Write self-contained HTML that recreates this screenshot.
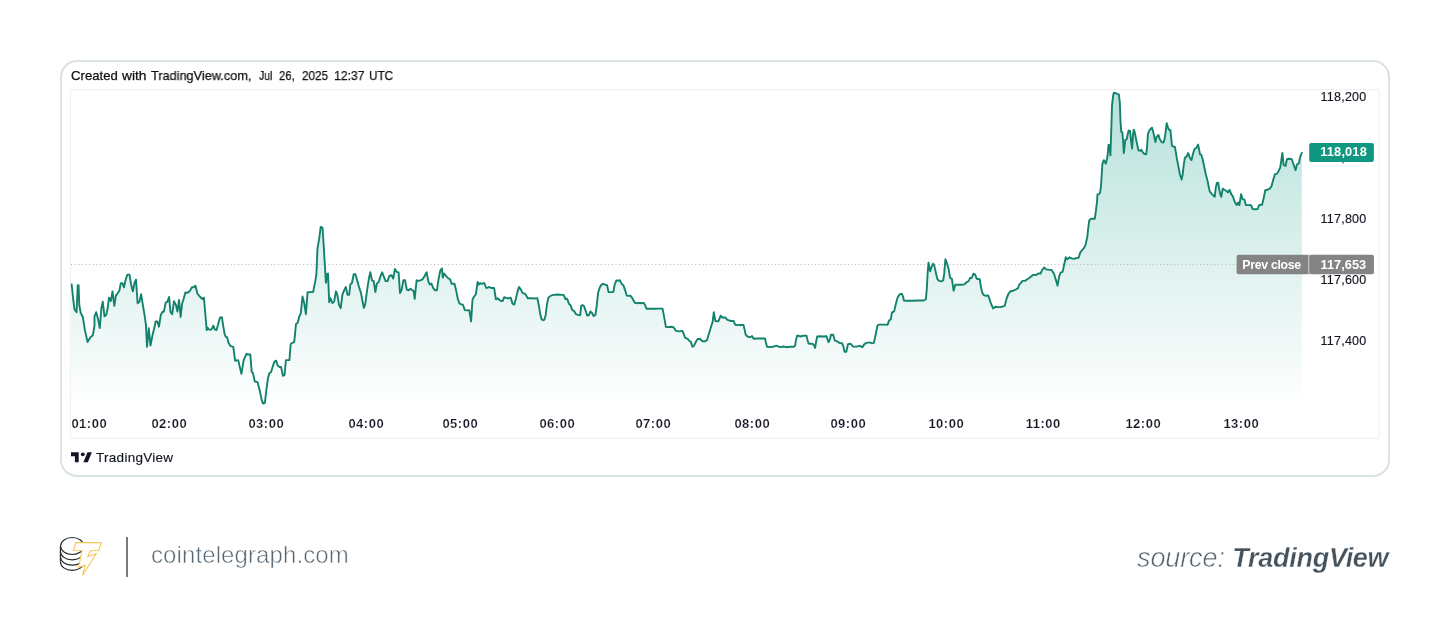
<!DOCTYPE html>
<html><head><meta charset="utf-8">
<style>
html,body{margin:0;padding:0;background:#fff;}
body{width:1450px;height:637px;position:relative;overflow:hidden;font-family:"Liberation Sans",sans-serif;}
.frame{position:absolute;left:60px;top:60px;width:1330px;height:416.5px;box-sizing:border-box;border:2px solid #d9e2e5;border-radius:17px;}
.hw{position:absolute;top:68px;font-size:13px;line-height:16px;color:#111;-webkit-text-stroke:0.25px #111;white-space:nowrap;transform-origin:0 0;will-change:transform;}
svg.chart{position:absolute;left:0;top:0;}
.tm{will-change:transform;position:absolute;top:415.5px;width:60px;text-align:center;font-size:13px;line-height:16px;font-weight:bold;color:#131722;white-space:nowrap;letter-spacing:0.5px;text-indent:0.5px;-webkit-text-stroke:0.18px #fff;}
.pr{will-change:transform;transform:translateX(-0.5px);-webkit-text-stroke:0.15px #131722;position:absolute;left:1321px;width:50px;letter-spacing:0.25px;text-align:left;font-size:12.5px;line-height:16px;color:#131722;white-space:nowrap;}
.lab{will-change:transform;letter-spacing:0px;position:absolute;box-sizing:border-box;color:#fff;font-size:12.8px;line-height:19px;font-weight:bold;white-space:nowrap;border-radius:2px;}
.tvtxt{will-change:transform;-webkit-text-stroke:0.15px #131722;position:absolute;left:96px;top:449.5px;font-size:13.5px;line-height:16px;color:#131722;white-space:nowrap;letter-spacing:0.28px;}
.ct{will-change:transform;position:absolute;left:150.5px;top:539.5px;font-size:24px;line-height:30px;color:#576671;white-space:nowrap;letter-spacing:0.1px;-webkit-text-stroke:0.55px #fff;}
.src{will-change:transform;position:absolute;right:61.3px;top:541.7px;font-size:27px;line-height:32px;color:#45535e;white-space:nowrap;font-style:italic;}
.src span{color:#54626d;letter-spacing:-0.1px;-webkit-text-stroke:0.6px #fff;}
.src b{font-weight:bold;letter-spacing:-0.28px;-webkit-text-stroke:0.3px #fff;}
.sep{position:absolute;left:126px;top:537px;width:2px;height:40px;background:#7a7a7a;}
</style></head><body>
<div class="frame"></div>
<div class="hw" style="left:70.6px;transform:scaleX(1.012)">Created</div>
<div class="hw" style="left:122.1px;transform:scaleX(1.056)">with</div>
<div class="hw" style="left:151.0px;transform:scaleX(0.978)">TradingView.com,</div>
<div class="hw" style="left:258.8px;transform:scaleX(0.802)">Jul</div>
<div class="hw" style="left:279.2px;transform:scaleX(0.868)">26,</div>
<div class="hw" style="left:302.0px;transform:scaleX(0.898)">2025</div>
<div class="hw" style="left:334.3px;transform:scaleX(0.939)">12:37</div>
<div class="hw" style="left:368.5px;transform:scaleX(0.903)">UTC</div>
<div class="pr" style="top:149.8px">118,000</div>
<svg class="chart" width="1450" height="637" viewBox="0 0 1450 637">
<defs><linearGradient id="g" x1="0" y1="90" x2="0" y2="407" gradientUnits="userSpaceOnUse">
<stop offset="0" stop-color="#089981" stop-opacity="0.295"/><stop offset="1" stop-color="#089981" stop-opacity="0"/></linearGradient></defs>
<rect x="70.7" y="89.7" width="1308.4" height="348.6" fill="none" stroke="#ededed" stroke-width="1"/>
<path d="M71.7,284.5 L73.1,298.3 L74.5,309.4 L76.6,312.2 L77.7,285.2 L78.6,285.2 L79.3,305.2 L80.7,312.8 L82.8,317.0 L84.9,330.1 L87.6,342.1 L90.4,337.3 L92.9,335.2 L94.5,325.5 L94.5,316.3 L96.2,312.2 L98.0,319.1 L99.8,328.0 L101.4,308.0 L102.8,301.8 L104.5,316.3 L106.3,314.9 L107.7,308.0 L109.0,297.7 L110.8,301.1 L112.5,291.4 L114.3,305.9 L115.9,295.6 L118.0,292.8 L119.4,290.7 L120.8,283.1 L122.4,283.1 L124.0,287.3 L125.6,279.7 L127.4,274.6 L129.5,274.6 L131.1,284.5 L132.9,291.4 L134.6,282.5 L136.0,279.7 L137.6,303.2 L139.4,301.8 L141.1,294.2 L142.9,305.2 L144.5,314.9 L145.9,324.6 L147.0,346.9 L148.8,328.3 L150.5,345.6 L152.5,335.2 L154.6,326.7 L155.6,321.5 L157.4,321.5 L159.0,326.7 L160.8,314.9 L162.2,312.2 L163.9,311.5 L165.7,302.5 L167.3,301.8 L169.1,297.0 L170.5,312.2 L172.2,314.2 L174.0,301.1 L176.0,305.2 L177.4,311.5 L179.1,300.0 L180.6,317.0 L182.2,303.2 L183.6,299.0 L185.4,292.5 L187.1,292.8 L189.6,291.4 L191.9,287.3 L193.7,287.3 L195.4,285.6 L197.4,293.5 L199.5,296.3 L201.6,298.3 L202.3,299.0 L203.9,297.7 L205.3,313.5 L206.7,330.1 L207.5,327.6 L208.9,329.4 L210.8,329.8 L211.9,328.7 L213.3,325.7 L214.7,329.4 L216.5,330.1 L218.1,324.6 L219.9,317.7 L221.9,317.3 L223.0,324.6 L224.6,333.8 L225.7,336.6 L227.1,337.3 L228.5,342.8 L230.6,346.2 L233.3,346.9 L235.1,360.7 L238.2,360.1 L241.4,373.9 L243.7,360.1 L246.5,353.8 L248.3,354.5 L250.3,354.5 L251.7,371.8 L253.0,373.2 L254.8,381.5 L257.6,382.2 L259.7,390.4 L261.7,400.1 L263.1,403.6 L264.9,402.9 L266.3,390.4 L268.0,378.0 L269.3,373.2 L271.0,372.2 L272.8,366.3 L274.6,361.4 L276.2,360.7 L277.6,365.6 L279.4,367.0 L281.1,367.0 L282.9,375.9 L284.5,375.2 L285.9,360.1 L287.3,360.1 L289.4,360.1 L290.7,344.2 L292.1,342.8 L294.2,342.1 L296.0,324.1 L297.7,322.8 L299.2,316.7 L300.8,313.3 L302.5,296.4 L304.2,303.1 L305.9,314.2 L307.6,292.1 L309.7,292.1 L313.1,292.1 L315.3,281.1 L316.4,274.3 L317.5,248.1 L319.2,238.7 L320.7,226.9 L322.5,227.7 L323.7,245.5 L324.9,265.8 L325.9,282.8 L327.1,274.3 L328.0,273.5 L329.2,302.3 L330.5,298.1 L331.4,300.6 L332.5,303.1 L334.2,301.4 L335.9,291.3 L337.3,294.7 L339.0,304.8 L340.7,308.2 L342.4,294.7 L344.1,290.4 L345.8,287.0 L347.5,294.7 L349.2,294.7 L350.3,284.5 L352.0,282.8 L353.7,274.3 L355.4,274.3 L357.1,280.3 L359.3,287.9 L361.0,293.0 L362.7,302.3 L363.9,307.9 L365.3,304.0 L366.9,291.3 L368.6,280.3 L370.3,272.3 L372.0,280.3 L373.7,281.1 L375.4,292.1 L376.8,283.6 L378.8,281.9 L380.5,276.0 L382.2,272.3 L383.9,276.9 L385.6,281.1 L387.6,281.1 L389.3,276.0 L391.5,275.2 L393.2,278.6 L394.9,268.9 L396.6,271.8 L398.6,272.3 L400.0,293.0 L401.7,289.6 L403.4,280.3 L405.1,280.3 L406.8,289.6 L408.8,290.4 L410.5,288.7 L413.6,290.9 L414.7,298.9 L416.6,280.3 L418.6,280.8 L420.3,280.3 L422.5,279.4 L424.6,276.0 L426.6,272.3 L428.3,281.1 L429.7,284.5 L431.4,283.6 L433.1,287.9 L435.1,290.4 L436.9,290.4 L438.5,279.4 L440.2,270.9 L441.9,268.4 L442.8,277.6 L444.1,273.5 L446.2,276.2 L448.3,278.3 L449.9,279.0 L451.7,283.8 L454.5,283.8 L455.9,289.4 L457.7,298.3 L459.3,303.2 L460.7,304.1 L462.8,304.6 L464.9,310.1 L466.9,310.4 L469.3,310.1 L471.1,321.5 L472.5,299.7 L473.8,297.0 L475.9,294.2 L477.6,282.0 L479.0,284.5 L480.3,283.1 L482.1,283.8 L484.2,282.9 L486.3,288.0 L487.7,287.6 L489.4,287.0 L491.1,288.0 L494.1,288.0 L495.9,299.4 L497.6,298.3 L499.4,300.0 L501.5,301.1 L502.8,300.8 L504.2,297.2 L506.3,298.1 L508.4,298.3 L510.7,297.7 L512.5,303.6 L514.3,304.6 L516.0,298.3 L517.6,291.4 L519.0,287.0 L520.8,289.4 L522.6,293.1 L524.5,293.5 L525.9,294.9 L527.7,298.3 L529.8,298.3 L532.3,298.1 L533.9,298.6 L536.0,298.3 L537.4,298.3 L538.8,305.2 L540.1,313.5 L541.5,319.1 L542.9,320.2 L544.3,319.8 L545.7,314.9 L547.0,303.9 L548.4,297.7 L550.5,295.9 L553.3,294.9 L557.4,294.5 L562.2,294.9 L563.6,294.9 L565.4,299.0 L567.1,298.6 L569.1,304.1 L570.5,305.2 L572.3,310.1 L574.0,310.8 L576.0,314.2 L578.1,314.9 L580.2,315.2 L581.2,305.9 L582.5,305.2 L583.9,305.9 L585.7,310.8 L587.1,315.6 L588.9,315.2 L590.3,311.5 L591.9,312.8 L593.6,316.0 L595.4,314.9 L596.8,305.2 L598.1,292.8 L599.9,287.3 L601.6,284.5 L603.4,283.8 L605.1,284.8 L607.1,285.2 L608.5,292.1 L611.3,292.1 L613.3,292.1 L614.7,284.5 L616.4,280.4 L618.2,280.7 L619.8,280.1 L621.6,283.8 L623.4,285.2 L625.1,290.1 L626.7,295.6 L628.5,295.9 L630.3,295.6 L632.0,297.7 L634.8,302.8 L637.5,303.2 L640.0,302.9 L641.0,303.3 L643.8,302.9 L644.9,304.7 L646.6,308.8 L648.6,308.8 L650.7,308.6 L654.9,308.8 L659.0,308.6 L662.5,308.6 L663.8,315.1 L665.9,326.8 L668.0,327.1 L671.4,326.8 L673.5,327.2 L676.0,330.9 L679.7,331.4 L682.5,330.9 L685.2,337.8 L687.7,338.8 L689.4,341.0 L690.8,341.6 L692.4,346.8 L694.2,345.4 L696.3,341.0 L697.7,339.0 L699.8,338.8 L702.5,341.3 L705.3,341.3 L707.1,339.9 L708.7,334.4 L710.8,327.5 L712.6,322.0 L713.8,312.3 L715.4,321.0 L718.4,321.3 L719.8,317.8 L720.7,315.7 L722.3,317.5 L725.3,317.5 L727.4,319.9 L730.8,321.0 L733.6,321.0 L735.2,324.7 L737.7,325.1 L740.5,325.0 L743.5,325.0 L744.6,329.6 L745.7,334.7 L747.4,336.5 L750.2,337.2 L752.0,336.0 L753.6,338.8 L757.1,338.5 L761.2,338.5 L765.1,338.5 L766.0,342.7 L767.0,346.8 L769.5,347.1 L773.0,346.8 L776.4,345.7 L779.2,346.8 L781.2,347.1 L783.3,346.5 L786.1,347.2 L790.2,346.8 L793.7,346.8 L795.1,345.7 L796.0,339.9 L797.1,335.8 L798.8,335.8 L800.6,336.5 L802.7,335.8 L806.5,335.8 L807.5,339.9 L808.5,343.6 L810.2,343.8 L812.3,343.6 L813.7,344.8 L815.1,347.9 L816.2,341.3 L817.2,336.5 L819.9,336.2 L823.4,336.5 L826.4,336.2 L827.5,339.2 L828.5,342.3 L830.0,339.2 L831.0,334.7 L833.2,334.7 L834.9,340.7 L836.9,341.2 L839.5,342.9 L842.0,343.2 L843.4,346.6 L844.6,351.7 L846.3,351.7 L848.0,344.1 L850.5,343.7 L853.1,346.6 L856.4,346.6 L859.8,345.8 L862.4,347.1 L864.4,344.1 L866.6,342.9 L869.2,342.4 L871.7,343.2 L873.9,342.9 L875.6,334.7 L877.3,326.3 L878.5,324.6 L881.9,324.6 L885.3,324.6 L887.5,324.9 L889.2,320.3 L890.7,319.5 L892.0,312.4 L894.1,311.4 L895.8,304.2 L897.6,297.5 L899.7,294.4 L901.7,293.7 L903.1,296.6 L903.9,300.5 L906.4,300.8 L911.5,300.8 L918.3,300.5 L923.7,300.5 L925.9,299.2 L926.8,289.0 L927.6,273.7 L928.5,262.7 L930.2,271.2 L931.5,266.9 L933.2,263.6 L934.4,266.1 L936.1,273.7 L937.3,278.8 L939.0,280.8 L941.2,281.4 L943.2,280.5 L944.2,273.7 L945.4,259.3 L946.8,262.7 L948.5,268.6 L950.2,278.0 L951.9,278.8 L953.6,290.7 L955.3,284.7 L958.1,284.7 L961.5,284.7 L964.4,284.4 L966.6,282.2 L968.8,281.0 L970.0,278.0 L971.7,278.0 L973.4,273.7 L975.1,274.6 L976.8,278.8 L979.7,279.2 L981.0,287.3 L982.4,293.2 L984.1,295.4 L986.1,295.8 L988.1,295.4 L989.5,299.2 L991.2,304.2 L993.2,308.5 L995.4,306.8 L998.0,307.1 L1000.5,307.1 L1003.1,306.3 L1004.7,305.9 L1006.4,299.2 L1008.5,293.7 L1010.7,291.2 L1013.2,290.7 L1015.8,289.5 L1018.0,288.1 L1019.2,284.7 L1020.0,283.9 L1022.6,280.9 L1024.9,280.9 L1027.3,279.3 L1029.6,277.7 L1032.0,275.7 L1033.6,274.6 L1035.9,275.1 L1038.3,273.5 L1040.6,273.5 L1042.2,269.9 L1044.2,267.5 L1046.1,269.4 L1049.3,269.9 L1051.6,269.9 L1054.0,273.8 L1055.9,280.1 L1057.6,285.6 L1059.0,277.0 L1060.6,272.6 L1062.6,271.9 L1064.2,264.4 L1065.8,257.3 L1067.3,259.4 L1069.4,257.3 L1071.6,258.4 L1074.1,258.9 L1076.0,258.1 L1078.6,257.8 L1080.2,252.6 L1081.9,250.3 L1083.8,248.4 L1085.7,244.3 L1087.3,236.9 L1088.2,228.3 L1089.3,220.4 L1090.9,218.8 L1093.2,218.8 L1094.8,218.8 L1096.1,209.4 L1097.2,200.0 L1097.4,194.6 L1098.8,194.1 L1100.1,192.7 L1101.0,186.3 L1101.8,173.1 L1102.4,163.7 L1103.8,160.2 L1104.9,161.5 L1105.7,163.7 L1107.1,158.8 L1107.8,153.2 L1108.5,145.0 L1109.5,145.0 L1110.4,155.4 L1111.2,132.1 L1112.0,105.7 L1113.1,95.7 L1113.9,92.6 L1116.4,93.5 L1118.9,94.6 L1119.8,102.3 L1120.5,121.1 L1121.2,131.6 L1122.3,132.1 L1123.1,141.0 L1123.8,153.1 L1125.3,139.9 L1126.7,139.3 L1127.5,135.4 L1128.6,130.5 L1130.0,131.0 L1131.1,141.0 L1132.1,148.7 L1133.0,134.3 L1133.8,129.7 L1134.7,132.1 L1135.8,137.7 L1137.1,144.3 L1138.5,150.3 L1140.2,150.9 L1141.5,149.8 L1142.6,152.0 L1144.0,153.7 L1146.2,154.2 L1147.0,147.6 L1147.9,134.3 L1149.0,131.0 L1150.7,128.8 L1152.0,127.7 L1152.9,130.5 L1154.0,135.4 L1155.4,142.1 L1156.5,137.1 L1158.4,134.9 L1159.8,139.3 L1161.7,142.1 L1163.3,142.6 L1164.4,139.9 L1165.6,132.1 L1166.7,123.1 L1168.0,127.7 L1169.1,129.7 L1170.3,129.9 L1171.1,136.6 L1172.0,145.9 L1173.3,146.5 L1174.9,147.0 L1175.7,151.4 L1176.8,158.2 L1178.2,165.4 L1179.9,174.2 L1181.6,179.5 L1182.7,174.2 L1183.8,164.3 L1184.9,157.7 L1186.5,156.6 L1188.2,153.0 L1189.8,157.7 L1191.5,160.1 L1192.9,154.3 L1194.5,149.0 L1196.4,147.9 L1198.1,144.6 L1199.2,149.9 L1200.0,154.3 L1201.4,154.9 L1202.5,158.8 L1204.2,166.5 L1205.8,174.2 L1207.5,180.8 L1209.1,188.6 L1209.7,191.3 L1211.9,194.1 L1214.7,196.8 L1215.8,187.4 L1216.9,183.0 L1218.2,182.7 L1219.1,188.6 L1220.2,194.1 L1221.3,196.8 L1222.7,188.6 L1224.3,189.7 L1226.2,190.8 L1227.9,192.4 L1229.6,189.9 L1231.2,194.1 L1232.9,196.3 L1234.5,201.2 L1235.0,202.4 L1236.7,205.1 L1238.1,202.4 L1239.4,205.1 L1241.1,194.1 L1242.5,199.1 L1244.4,199.6 L1245.8,205.1 L1248.2,205.1 L1251.0,205.1 L1252.7,209.0 L1254.9,209.3 L1257.6,209.0 L1259.3,204.9 L1262.0,204.9 L1263.7,198.0 L1265.3,190.2 L1267.6,189.7 L1269.8,188.6 L1271.4,186.4 L1273.1,180.3 L1274.9,174.2 L1276.9,173.9 L1278.6,170.9 L1280.2,167.6 L1281.3,160.4 L1282.4,152.9 L1283.6,164.9 L1285.5,166.0 L1286.9,159.3 L1289.1,158.8 L1291.8,159.3 L1293.5,164.3 L1295.5,170.2 L1297.0,164.3 L1298.8,163.5 L1300.1,157.1 L1301.8,152.9 L1301.8,407 L71.7,407 Z" fill="url(#g)" stroke="none"/>
<line x1="71" y1="264.5" x2="1237" y2="264.5" stroke="#b5b5b5" stroke-width="1" stroke-dasharray="1 2.63"/>
<path d="M71.7,284.5 L73.1,298.3 L74.5,309.4 L76.6,312.2 L77.7,285.2 L78.6,285.2 L79.3,305.2 L80.7,312.8 L82.8,317.0 L84.9,330.1 L87.6,342.1 L90.4,337.3 L92.9,335.2 L94.5,325.5 L94.5,316.3 L96.2,312.2 L98.0,319.1 L99.8,328.0 L101.4,308.0 L102.8,301.8 L104.5,316.3 L106.3,314.9 L107.7,308.0 L109.0,297.7 L110.8,301.1 L112.5,291.4 L114.3,305.9 L115.9,295.6 L118.0,292.8 L119.4,290.7 L120.8,283.1 L122.4,283.1 L124.0,287.3 L125.6,279.7 L127.4,274.6 L129.5,274.6 L131.1,284.5 L132.9,291.4 L134.6,282.5 L136.0,279.7 L137.6,303.2 L139.4,301.8 L141.1,294.2 L142.9,305.2 L144.5,314.9 L145.9,324.6 L147.0,346.9 L148.8,328.3 L150.5,345.6 L152.5,335.2 L154.6,326.7 L155.6,321.5 L157.4,321.5 L159.0,326.7 L160.8,314.9 L162.2,312.2 L163.9,311.5 L165.7,302.5 L167.3,301.8 L169.1,297.0 L170.5,312.2 L172.2,314.2 L174.0,301.1 L176.0,305.2 L177.4,311.5 L179.1,300.0 L180.6,317.0 L182.2,303.2 L183.6,299.0 L185.4,292.5 L187.1,292.8 L189.6,291.4 L191.9,287.3 L193.7,287.3 L195.4,285.6 L197.4,293.5 L199.5,296.3 L201.6,298.3 L202.3,299.0 L203.9,297.7 L205.3,313.5 L206.7,330.1 L207.5,327.6 L208.9,329.4 L210.8,329.8 L211.9,328.7 L213.3,325.7 L214.7,329.4 L216.5,330.1 L218.1,324.6 L219.9,317.7 L221.9,317.3 L223.0,324.6 L224.6,333.8 L225.7,336.6 L227.1,337.3 L228.5,342.8 L230.6,346.2 L233.3,346.9 L235.1,360.7 L238.2,360.1 L241.4,373.9 L243.7,360.1 L246.5,353.8 L248.3,354.5 L250.3,354.5 L251.7,371.8 L253.0,373.2 L254.8,381.5 L257.6,382.2 L259.7,390.4 L261.7,400.1 L263.1,403.6 L264.9,402.9 L266.3,390.4 L268.0,378.0 L269.3,373.2 L271.0,372.2 L272.8,366.3 L274.6,361.4 L276.2,360.7 L277.6,365.6 L279.4,367.0 L281.1,367.0 L282.9,375.9 L284.5,375.2 L285.9,360.1 L287.3,360.1 L289.4,360.1 L290.7,344.2 L292.1,342.8 L294.2,342.1 L296.0,324.1 L297.7,322.8 L299.2,316.7 L300.8,313.3 L302.5,296.4 L304.2,303.1 L305.9,314.2 L307.6,292.1 L309.7,292.1 L313.1,292.1 L315.3,281.1 L316.4,274.3 L317.5,248.1 L319.2,238.7 L320.7,226.9 L322.5,227.7 L323.7,245.5 L324.9,265.8 L325.9,282.8 L327.1,274.3 L328.0,273.5 L329.2,302.3 L330.5,298.1 L331.4,300.6 L332.5,303.1 L334.2,301.4 L335.9,291.3 L337.3,294.7 L339.0,304.8 L340.7,308.2 L342.4,294.7 L344.1,290.4 L345.8,287.0 L347.5,294.7 L349.2,294.7 L350.3,284.5 L352.0,282.8 L353.7,274.3 L355.4,274.3 L357.1,280.3 L359.3,287.9 L361.0,293.0 L362.7,302.3 L363.9,307.9 L365.3,304.0 L366.9,291.3 L368.6,280.3 L370.3,272.3 L372.0,280.3 L373.7,281.1 L375.4,292.1 L376.8,283.6 L378.8,281.9 L380.5,276.0 L382.2,272.3 L383.9,276.9 L385.6,281.1 L387.6,281.1 L389.3,276.0 L391.5,275.2 L393.2,278.6 L394.9,268.9 L396.6,271.8 L398.6,272.3 L400.0,293.0 L401.7,289.6 L403.4,280.3 L405.1,280.3 L406.8,289.6 L408.8,290.4 L410.5,288.7 L413.6,290.9 L414.7,298.9 L416.6,280.3 L418.6,280.8 L420.3,280.3 L422.5,279.4 L424.6,276.0 L426.6,272.3 L428.3,281.1 L429.7,284.5 L431.4,283.6 L433.1,287.9 L435.1,290.4 L436.9,290.4 L438.5,279.4 L440.2,270.9 L441.9,268.4 L442.8,277.6 L444.1,273.5 L446.2,276.2 L448.3,278.3 L449.9,279.0 L451.7,283.8 L454.5,283.8 L455.9,289.4 L457.7,298.3 L459.3,303.2 L460.7,304.1 L462.8,304.6 L464.9,310.1 L466.9,310.4 L469.3,310.1 L471.1,321.5 L472.5,299.7 L473.8,297.0 L475.9,294.2 L477.6,282.0 L479.0,284.5 L480.3,283.1 L482.1,283.8 L484.2,282.9 L486.3,288.0 L487.7,287.6 L489.4,287.0 L491.1,288.0 L494.1,288.0 L495.9,299.4 L497.6,298.3 L499.4,300.0 L501.5,301.1 L502.8,300.8 L504.2,297.2 L506.3,298.1 L508.4,298.3 L510.7,297.7 L512.5,303.6 L514.3,304.6 L516.0,298.3 L517.6,291.4 L519.0,287.0 L520.8,289.4 L522.6,293.1 L524.5,293.5 L525.9,294.9 L527.7,298.3 L529.8,298.3 L532.3,298.1 L533.9,298.6 L536.0,298.3 L537.4,298.3 L538.8,305.2 L540.1,313.5 L541.5,319.1 L542.9,320.2 L544.3,319.8 L545.7,314.9 L547.0,303.9 L548.4,297.7 L550.5,295.9 L553.3,294.9 L557.4,294.5 L562.2,294.9 L563.6,294.9 L565.4,299.0 L567.1,298.6 L569.1,304.1 L570.5,305.2 L572.3,310.1 L574.0,310.8 L576.0,314.2 L578.1,314.9 L580.2,315.2 L581.2,305.9 L582.5,305.2 L583.9,305.9 L585.7,310.8 L587.1,315.6 L588.9,315.2 L590.3,311.5 L591.9,312.8 L593.6,316.0 L595.4,314.9 L596.8,305.2 L598.1,292.8 L599.9,287.3 L601.6,284.5 L603.4,283.8 L605.1,284.8 L607.1,285.2 L608.5,292.1 L611.3,292.1 L613.3,292.1 L614.7,284.5 L616.4,280.4 L618.2,280.7 L619.8,280.1 L621.6,283.8 L623.4,285.2 L625.1,290.1 L626.7,295.6 L628.5,295.9 L630.3,295.6 L632.0,297.7 L634.8,302.8 L637.5,303.2 L640.0,302.9 L641.0,303.3 L643.8,302.9 L644.9,304.7 L646.6,308.8 L648.6,308.8 L650.7,308.6 L654.9,308.8 L659.0,308.6 L662.5,308.6 L663.8,315.1 L665.9,326.8 L668.0,327.1 L671.4,326.8 L673.5,327.2 L676.0,330.9 L679.7,331.4 L682.5,330.9 L685.2,337.8 L687.7,338.8 L689.4,341.0 L690.8,341.6 L692.4,346.8 L694.2,345.4 L696.3,341.0 L697.7,339.0 L699.8,338.8 L702.5,341.3 L705.3,341.3 L707.1,339.9 L708.7,334.4 L710.8,327.5 L712.6,322.0 L713.8,312.3 L715.4,321.0 L718.4,321.3 L719.8,317.8 L720.7,315.7 L722.3,317.5 L725.3,317.5 L727.4,319.9 L730.8,321.0 L733.6,321.0 L735.2,324.7 L737.7,325.1 L740.5,325.0 L743.5,325.0 L744.6,329.6 L745.7,334.7 L747.4,336.5 L750.2,337.2 L752.0,336.0 L753.6,338.8 L757.1,338.5 L761.2,338.5 L765.1,338.5 L766.0,342.7 L767.0,346.8 L769.5,347.1 L773.0,346.8 L776.4,345.7 L779.2,346.8 L781.2,347.1 L783.3,346.5 L786.1,347.2 L790.2,346.8 L793.7,346.8 L795.1,345.7 L796.0,339.9 L797.1,335.8 L798.8,335.8 L800.6,336.5 L802.7,335.8 L806.5,335.8 L807.5,339.9 L808.5,343.6 L810.2,343.8 L812.3,343.6 L813.7,344.8 L815.1,347.9 L816.2,341.3 L817.2,336.5 L819.9,336.2 L823.4,336.5 L826.4,336.2 L827.5,339.2 L828.5,342.3 L830.0,339.2 L831.0,334.7 L833.2,334.7 L834.9,340.7 L836.9,341.2 L839.5,342.9 L842.0,343.2 L843.4,346.6 L844.6,351.7 L846.3,351.7 L848.0,344.1 L850.5,343.7 L853.1,346.6 L856.4,346.6 L859.8,345.8 L862.4,347.1 L864.4,344.1 L866.6,342.9 L869.2,342.4 L871.7,343.2 L873.9,342.9 L875.6,334.7 L877.3,326.3 L878.5,324.6 L881.9,324.6 L885.3,324.6 L887.5,324.9 L889.2,320.3 L890.7,319.5 L892.0,312.4 L894.1,311.4 L895.8,304.2 L897.6,297.5 L899.7,294.4 L901.7,293.7 L903.1,296.6 L903.9,300.5 L906.4,300.8 L911.5,300.8 L918.3,300.5 L923.7,300.5 L925.9,299.2 L926.8,289.0 L927.6,273.7 L928.5,262.7 L930.2,271.2 L931.5,266.9 L933.2,263.6 L934.4,266.1 L936.1,273.7 L937.3,278.8 L939.0,280.8 L941.2,281.4 L943.2,280.5 L944.2,273.7 L945.4,259.3 L946.8,262.7 L948.5,268.6 L950.2,278.0 L951.9,278.8 L953.6,290.7 L955.3,284.7 L958.1,284.7 L961.5,284.7 L964.4,284.4 L966.6,282.2 L968.8,281.0 L970.0,278.0 L971.7,278.0 L973.4,273.7 L975.1,274.6 L976.8,278.8 L979.7,279.2 L981.0,287.3 L982.4,293.2 L984.1,295.4 L986.1,295.8 L988.1,295.4 L989.5,299.2 L991.2,304.2 L993.2,308.5 L995.4,306.8 L998.0,307.1 L1000.5,307.1 L1003.1,306.3 L1004.7,305.9 L1006.4,299.2 L1008.5,293.7 L1010.7,291.2 L1013.2,290.7 L1015.8,289.5 L1018.0,288.1 L1019.2,284.7 L1020.0,283.9 L1022.6,280.9 L1024.9,280.9 L1027.3,279.3 L1029.6,277.7 L1032.0,275.7 L1033.6,274.6 L1035.9,275.1 L1038.3,273.5 L1040.6,273.5 L1042.2,269.9 L1044.2,267.5 L1046.1,269.4 L1049.3,269.9 L1051.6,269.9 L1054.0,273.8 L1055.9,280.1 L1057.6,285.6 L1059.0,277.0 L1060.6,272.6 L1062.6,271.9 L1064.2,264.4 L1065.8,257.3 L1067.3,259.4 L1069.4,257.3 L1071.6,258.4 L1074.1,258.9 L1076.0,258.1 L1078.6,257.8 L1080.2,252.6 L1081.9,250.3 L1083.8,248.4 L1085.7,244.3 L1087.3,236.9 L1088.2,228.3 L1089.3,220.4 L1090.9,218.8 L1093.2,218.8 L1094.8,218.8 L1096.1,209.4 L1097.2,200.0 L1097.4,194.6 L1098.8,194.1 L1100.1,192.7 L1101.0,186.3 L1101.8,173.1 L1102.4,163.7 L1103.8,160.2 L1104.9,161.5 L1105.7,163.7 L1107.1,158.8 L1107.8,153.2 L1108.5,145.0 L1109.5,145.0 L1110.4,155.4 L1111.2,132.1 L1112.0,105.7 L1113.1,95.7 L1113.9,92.6 L1116.4,93.5 L1118.9,94.6 L1119.8,102.3 L1120.5,121.1 L1121.2,131.6 L1122.3,132.1 L1123.1,141.0 L1123.8,153.1 L1125.3,139.9 L1126.7,139.3 L1127.5,135.4 L1128.6,130.5 L1130.0,131.0 L1131.1,141.0 L1132.1,148.7 L1133.0,134.3 L1133.8,129.7 L1134.7,132.1 L1135.8,137.7 L1137.1,144.3 L1138.5,150.3 L1140.2,150.9 L1141.5,149.8 L1142.6,152.0 L1144.0,153.7 L1146.2,154.2 L1147.0,147.6 L1147.9,134.3 L1149.0,131.0 L1150.7,128.8 L1152.0,127.7 L1152.9,130.5 L1154.0,135.4 L1155.4,142.1 L1156.5,137.1 L1158.4,134.9 L1159.8,139.3 L1161.7,142.1 L1163.3,142.6 L1164.4,139.9 L1165.6,132.1 L1166.7,123.1 L1168.0,127.7 L1169.1,129.7 L1170.3,129.9 L1171.1,136.6 L1172.0,145.9 L1173.3,146.5 L1174.9,147.0 L1175.7,151.4 L1176.8,158.2 L1178.2,165.4 L1179.9,174.2 L1181.6,179.5 L1182.7,174.2 L1183.8,164.3 L1184.9,157.7 L1186.5,156.6 L1188.2,153.0 L1189.8,157.7 L1191.5,160.1 L1192.9,154.3 L1194.5,149.0 L1196.4,147.9 L1198.1,144.6 L1199.2,149.9 L1200.0,154.3 L1201.4,154.9 L1202.5,158.8 L1204.2,166.5 L1205.8,174.2 L1207.5,180.8 L1209.1,188.6 L1209.7,191.3 L1211.9,194.1 L1214.7,196.8 L1215.8,187.4 L1216.9,183.0 L1218.2,182.7 L1219.1,188.6 L1220.2,194.1 L1221.3,196.8 L1222.7,188.6 L1224.3,189.7 L1226.2,190.8 L1227.9,192.4 L1229.6,189.9 L1231.2,194.1 L1232.9,196.3 L1234.5,201.2 L1235.0,202.4 L1236.7,205.1 L1238.1,202.4 L1239.4,205.1 L1241.1,194.1 L1242.5,199.1 L1244.4,199.6 L1245.8,205.1 L1248.2,205.1 L1251.0,205.1 L1252.7,209.0 L1254.9,209.3 L1257.6,209.0 L1259.3,204.9 L1262.0,204.9 L1263.7,198.0 L1265.3,190.2 L1267.6,189.7 L1269.8,188.6 L1271.4,186.4 L1273.1,180.3 L1274.9,174.2 L1276.9,173.9 L1278.6,170.9 L1280.2,167.6 L1281.3,160.4 L1282.4,152.9 L1283.6,164.9 L1285.5,166.0 L1286.9,159.3 L1289.1,158.8 L1291.8,159.3 L1293.5,164.3 L1295.5,170.2 L1297.0,164.3 L1298.8,163.5 L1300.1,157.1 L1301.8,152.9" fill="none" stroke="#13826d" stroke-width="1.9" stroke-linejoin="round" stroke-linecap="round"/>
<rect x="1309.2" y="142.9" width="64.7" height="19" rx="2" fill="#109781"/>
<rect x="1236.6" y="254.8" width="71.4" height="19.4" rx="2" fill="#848484"/>
<rect x="1307" y="254.8" width="3" height="19.4" fill="#848484"/>
<rect x="1308.2" y="254.8" width="1.2" height="19.4" fill="#cfcfcf"/>
<rect x="1309.6" y="254.8" width="64.4" height="19.4" rx="2" fill="#848484"/>
<!-- tradingview logo -->
<g fill="#131722"><path d="M71,452.3H78.7V462.2H74.9V456.2H71Z"/><circle cx="82.8" cy="454.3" r="1.9"/><path d="M87.5,452.3H91.9L87.8,462.2H83.4Z"/></g>
<!-- cointelegraph logo -->
<g fill="none" stroke="#23282c" stroke-width="1.15">
<ellipse cx="72.2" cy="546" rx="11.6" ry="8.5"/>
<path d="M60.4,546V561.8"/>
<path d="M60.4,551.3A11.8,8.6 0 0 0 84,551.3"/>
<path d="M60.4,556.6A11.8,8.6 0 0 0 84,556.6"/>
<path d="M60.4,561.8A11.8,8.6 0 0 0 84,561.8"/>
</g>
<path d="M75.7,542.6L101.3,542.6L98.7,550.5L90.4,550.7L87.8,556.5L96.3,553.7L82.5,575.3L85.1,565.3L78.5,567.4L82,550.8L73.5,550.5Z" fill="#fffefa" stroke="#f3c658" stroke-width="1.05" stroke-linejoin="miter"/>
</svg>
<div class="tm" style="left:59.0px">01:00</div>
<div class="tm" style="left:139.0px">02:00</div>
<div class="tm" style="left:236.3px">03:00</div>
<div class="tm" style="left:335.7px">04:00</div>
<div class="tm" style="left:429.6px">05:00</div>
<div class="tm" style="left:527.4px">06:00</div>
<div class="tm" style="left:623.1px">07:00</div>
<div class="tm" style="left:722.4px">08:00</div>
<div class="tm" style="left:818.0px">09:00</div>
<div class="tm" style="left:916.2px">10:00</div>
<div class="tm" style="left:1013.4px">11:00</div>
<div class="tm" style="left:1112.6px">12:00</div>
<div class="tm" style="left:1211.4px">13:00</div>
<div class="pr" style="top:88.6px">118,200</div>
<div class="pr" style="top:210.9px">117,800</div>
<div class="pr" style="top:272.1px">117,600</div>
<div class="pr" style="top:333.3px">117,400</div>
<div class="lab" style="left:1320px;top:142px;width:60px;height:19px;text-indent:0.3px;letter-spacing:0.15px;">118,018</div>
<div class="lab" style="left:1242px;top:255px;width:70px;height:21px;line-height:21px;letter-spacing:-0.3px;font-size:12.3px;text-indent:0.3px;">Prev close</div>
<div class="lab" style="left:1320px;top:255px;width:60px;height:19px;text-indent:0.6px;">117,653</div>
<div class="tvtxt">TradingView</div>
<div class="sep"></div>
<div class="ct">cointelegraph.com</div>
<div class="src"><span>source:</span> <b>TradingView</b></div>
</body></html>
